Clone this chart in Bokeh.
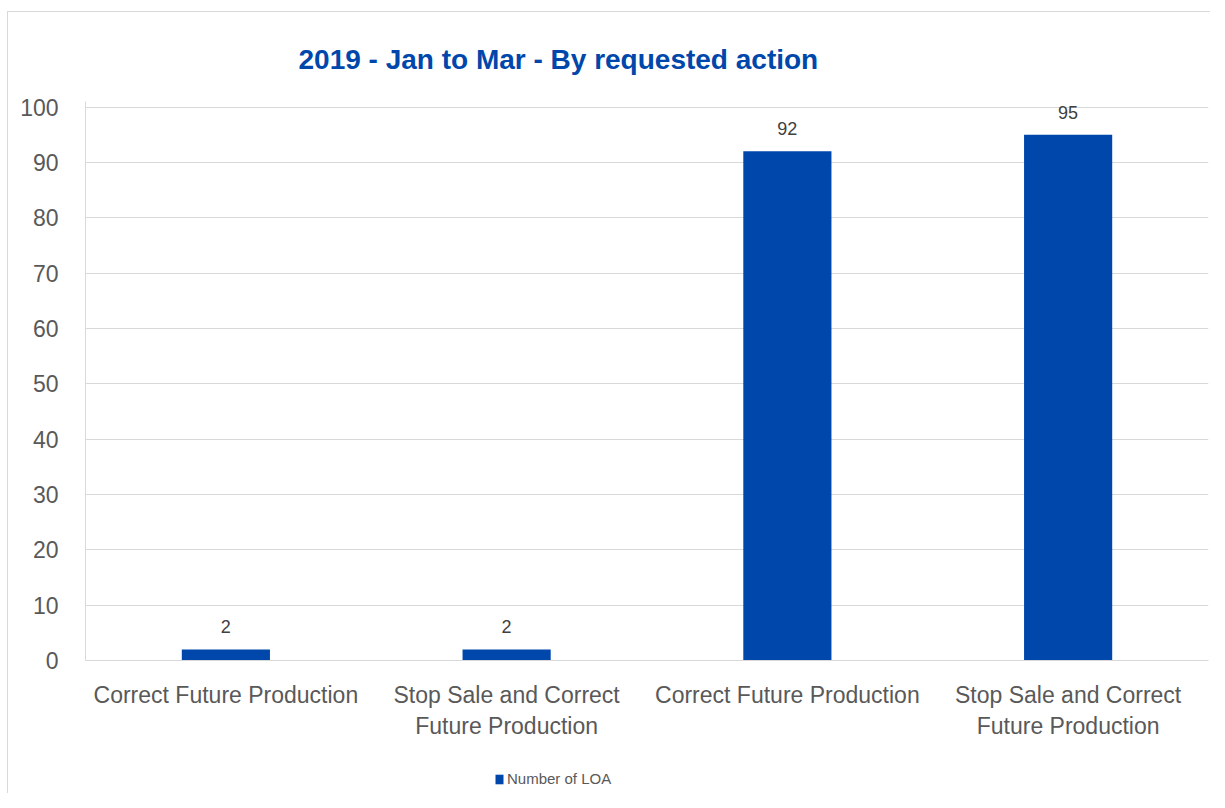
from bokeh.plotting import figure
from bokeh.models import (ColumnDataSource, Range1d, FixedTicker, LabelSet,
                          Legend, LegendItem)
from bokeh.layouts import column
from bokeh.core.properties import value
from bokeh.embed import file_html
from bokeh.resources import INLINE

# ---- data ----
categories = ["Correct Future Production",
              "Stop Sale and Correct\nFuture Production",
              "Correct Future Production",
              "Stop Sale and Correct\nFuture Production"]
values = [2, 2, 92, 95]
series_name = "Number of LOA"
title_text = "2019 - Jan to Mar - By requested action"
y_ticks = [0, 10, 20, 30, 40, 50, 60, 70, 80, 90, 100]

BLUE = "#0047AB"
FONT = "Liberation Sans"
TICK_COLOR = "#595959"
GRID = "#d9d9d9"

xs = list(range(len(values)))
src = ColumnDataSource(dict(x=xs, top=values, lab=[str(v) for v in values]))

p = figure(width=1202, height=729, output_backend="svg", toolbar_location=None,
           x_range=Range1d(-0.5, len(values) - 0.5), y_range=Range1d(0, 101),
           min_border_left=77, min_border_right=2, min_border_top=89,
           min_border_bottom=80)

p.title.text = title_text
p.title.align = "left"
p.title.offset = 213
p.title.text_font = FONT
p.title.text_font_style = "bold"
p.title.text_font_size = "28px"
p.title.text_color = BLUE
p.title.standoff = 53

r = p.vbar(x="x", top="top", width=0.314, source=src, fill_color=BLUE,
           line_color=None)

labels = LabelSet(x="x", y="top", text="lab", source=src, y_offset=16,
                  text_align="center", text_baseline="alphabetic",
                  text_font=value(FONT), text_font_size="18px",
                  text_color="#404040")
p.add_layout(labels)

# axes
p.xaxis.ticker = FixedTicker(ticks=xs)
p.xaxis.major_label_overrides = {i: c for i, c in enumerate(categories)}
p.xaxis.major_label_text_font = FONT
p.xaxis.major_label_text_font_size = "23px"
p.xaxis.major_label_text_color = TICK_COLOR
p.xaxis.major_label_standoff = 15
p.xaxis.major_tick_line_color = None
p.xaxis.minor_tick_line_color = None
p.xaxis.axis_line_color = GRID

p.yaxis.ticker = FixedTicker(ticks=y_ticks)
p.yaxis.major_label_text_font = FONT
p.yaxis.major_label_text_font_size = "23px"
p.yaxis.major_label_text_color = TICK_COLOR
p.yaxis.major_label_standoff = 21
p.yaxis.major_tick_line_color = None
p.yaxis.minor_tick_line_color = None
p.yaxis.axis_line_color = GRID

p.xgrid.grid_line_color = None
p.ygrid.grid_line_color = GRID
p.ygrid.grid_line_width = 1
p.outline_line_color = None

# ---- legend strip below the chart ----
lg = figure(width=1202, height=52, output_backend="svg", toolbar_location=None,
            x_range=Range1d(-0.5, len(values) - 0.5), y_range=Range1d(0, 1),
            x_axis_location=None, y_axis_location=None,
            min_border=0, min_border_left=0, min_border_right=0,
            min_border_top=0, min_border_bottom=0)
lg.xgrid.grid_line_color = None
lg.ygrid.grid_line_color = None
lg.outline_line_color = None
lr = lg.vbar(x="x", top="top", width=0.314, source=src,
             fill_color=BLUE, line_color=None)
lr.visible = False
legend = Legend(items=[LegendItem(label=series_name, renderers=[lr])],
                location=(409, 6), orientation="horizontal",
                glyph_width=10, glyph_height=12, label_standoff=3,
                padding=0, margin=0, border_line_color=None,
                background_fill_alpha=0, inactive_fill_alpha=0,
                label_text_font=FONT, label_text_font_size="15px",
                label_text_color=TICK_COLOR)
lg.add_layout(legend, "center")

layout = column(p, lg, spacing=0)
layout.styles = {"border-left": "1px solid #d9d9d9",
                 "border-top": "1px solid #d9d9d9",
                 "margin-left": "7px", "margin-top": "11px"}

open("out.html", "w").write(file_html(layout, INLINE))
